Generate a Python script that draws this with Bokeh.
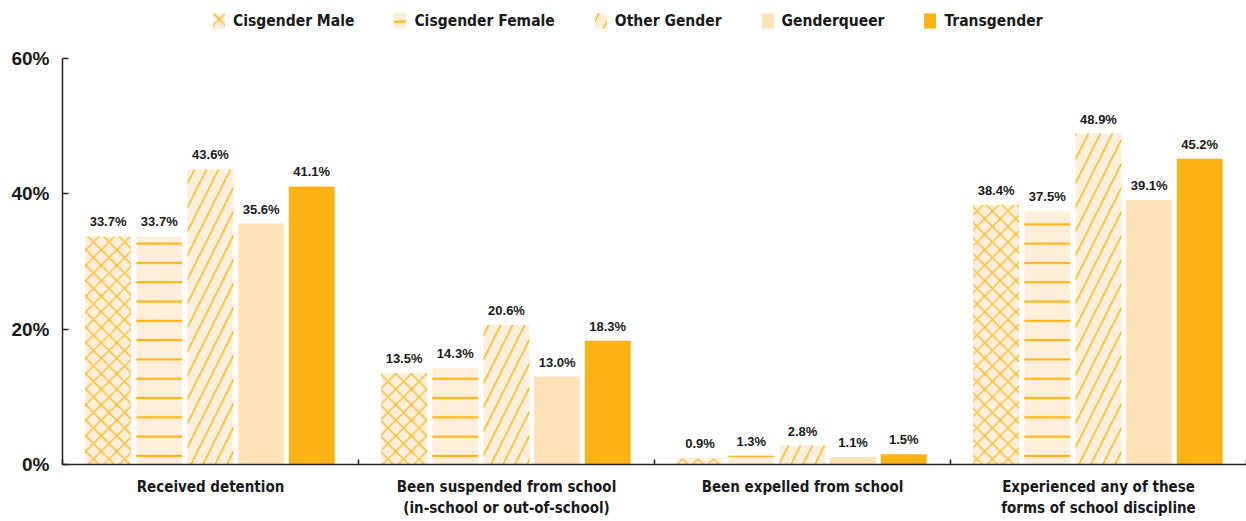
from bokeh.plotting import figure
from bokeh.layouts import column
from bokeh.models import ColumnDataSource, Range1d, FixedTicker, Legend, LegendItem
from bokeh.transform import dodge
from bokeh.core.properties import value
from bokeh.embed import file_html
from bokeh.resources import INLINE

# ---- data ----
categories = [
    "Received detention",
    "Been suspended from school\n(in-school or out-of-school)",
    "Been expelled from school",
    "Experienced any of these\nforms of school discipline",
]
series = ["Cisgender Male", "Cisgender Female", "Other Gender", "Genderqueer", "Transgender"]
cis_male = [33.7, 13.5, 0.9, 38.4]
cis_female = [33.7, 14.3, 1.3, 37.5]
other_gender = [43.6, 20.6, 2.8, 48.9]
genderqueer = [35.6, 13.0, 1.1, 39.1]
transgender = [41.1, 18.3, 1.5, 45.2]
y_ticks = [0, 20, 40, 60]
y_tick_labels = ["0%", "20%", "40%", "60%"]

values = [cis_male, cis_female, other_gender, genderqueer, transgender]

# ---- styles ----
HATCH = "#FDB515"
BG = "#FEEEDA"
styles = [
    dict(fill_color=BG, hatch_pattern="x", hatch_color=HATCH, hatch_scale=15.5, hatch_weight=1.2),
    dict(fill_color=BG, hatch_pattern="-", hatch_color=HATCH, hatch_scale=19.3, hatch_weight=2.2),
    dict(fill_color=BG, hatch_pattern="/", hatch_color=HATCH, hatch_scale=24, hatch_weight=1.4),
    dict(fill_color="#FFE2B8"),
    dict(fill_color="#FDB216"),
]
offsets = [-0.346, -0.173, 0.0, 0.171, 0.342]
BAR_W = 0.155

COND = "DejaVu Sans Condensed"
SANS = "Liberation Sans"
TXT = "#1a1a1a"

# ---- main chart ----
p = figure(
    width=1246, height=481,
    x_range=Range1d(0, 4), y_range=Range1d(0, 60),
    output_backend="svg", toolbar_location=None,
    min_border_left=62, min_border_right=0, min_border_top=18, min_border_bottom=57,
)
p.outline_line_color = None
p.xgrid.grid_line_color = None
p.ygrid.grid_line_color = None

xc = [i + 0.5 for i in range(len(categories))]
for name, vals, st, off in zip(series, values, styles, offsets):
    src = ColumnDataSource(dict(x=xc, top=vals, lab=[f"{v:.1f}%" for v in vals]))
    p.vbar(x=dodge("x", off, range=p.x_range), top="top", width=BAR_W, bottom=0,
           source=src, line_color=None, **st)
    p.text(x=dodge("x", off, range=p.x_range), y="top", text="lab", source=src,
           text_align="center", text_baseline="bottom", y_offset=-7,
           text_font=value(SANS), text_font_style="bold", text_font_size="13px",
           text_color=TXT)

# y axis
ya = p.yaxis[0]
ya.ticker = FixedTicker(ticks=y_ticks, minor_ticks=[])
ya.major_label_overrides = {t: l for t, l in zip(y_ticks, y_tick_labels)}
ya.major_tick_in = 6
ya.major_tick_out = 0
ya.minor_tick_in = 0
ya.minor_tick_out = 0
ya.axis_line_color = "#222222"
ya.axis_line_width = 1.5
ya.major_tick_line_color = "#222222"
ya.major_tick_line_width = 1.5
ya.major_label_text_font = SANS
ya.major_label_text_font_style = "bold"
ya.major_label_text_font_size = "19px"
ya.major_label_text_color = TXT
ya.major_label_standoff = 13

# x axis
xa = p.xaxis[0]
xa.ticker = FixedTicker(ticks=xc, minor_ticks=[0, 1, 2, 3, 4])
xa.major_label_overrides = {t: c for t, c in zip(xc, categories)}
xa.major_tick_in = 0
xa.major_tick_out = 0
xa.minor_tick_in = 5
xa.minor_tick_out = 0
xa.minor_tick_line_color = "#222222"
xa.minor_tick_line_width = 1.5
xa.axis_line_color = "#222222"
xa.axis_line_width = 1.5
xa.major_label_text_font = COND
xa.major_label_text_font_style = "bold"
xa.major_label_text_font_size = "15px"
xa.major_label_text_color = TXT
xa.major_label_standoff = 13

# ---- legend strip (its bars lie outside its ranges; only the legend shows) ----
lg = figure(
    width=1246, height=40, x_range=Range1d(1000, 1001), y_range=Range1d(1000, 1001),
    x_axis_type=None, y_axis_type=None,
    output_backend="svg", toolbar_location=None,
    min_border_left=0, min_border_right=0, min_border_top=0, min_border_bottom=0,
)
lg.outline_line_color = None
items = []
for name, vals, st in zip(series, values, styles):
    r = lg.vbar(x=xc, top=vals, width=0.1, line_color=None, **st)
    items.append(LegendItem(label=name, renderers=[r]))
legend = Legend(
    items=items, orientation="horizontal", location=(149, 10),
    border_line_color=None, background_fill_alpha=0,
    label_text_font=COND, label_text_font_style="bold", label_text_font_size="15.5px",
    label_text_color=TXT, glyph_width=15, glyph_height=19, label_standoff=7,
    spacing=38, padding=0, margin=0,
)
lg.add_layout(legend)

open("out.html", "w").write(file_html(column(lg, p), INLINE))
